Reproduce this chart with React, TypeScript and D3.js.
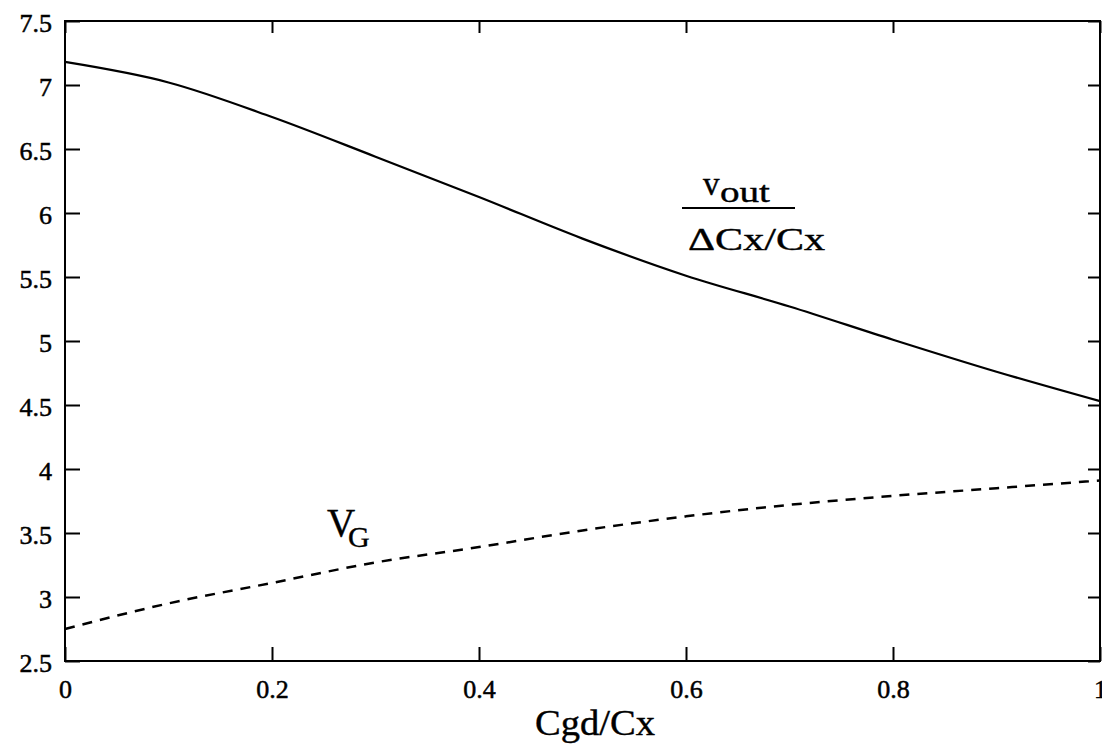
import React, { useRef, useEffect } from "react";
import * as d3 from "d3";

// Cgd/Cx sampled every 0.1
const ratios = [0, 0.1, 0.2, 0.3, 0.4, 0.5, 0.6, 0.7, 0.8, 0.9, 1.0];
// vout / (dCx/Cx)
const voutSens = [7.18, 7.02, 6.75, 6.44, 6.125, 5.8, 5.51, 5.27, 5.01, 4.76, 4.53];
// VG
const vg = [2.75, 2.95, 3.11, 3.27, 3.39, 3.52, 3.63, 3.72, 3.79, 3.85, 3.91];

const xTicks = [0, 0.2, 0.4, 0.6, 0.8, 1];
const yTicks = [2.5, 3, 3.5, 4, 4.5, 5, 5.5, 6, 6.5, 7, 7.5];

const W = 1102, H = 746;
const margin = { top: 21, right: 2, bottom: 85, left: 65 };
const FONT = "'Liberation Serif', 'Times New Roman', serif";

export default function App() {
    const axRef = useRef<SVGGElement>(null);

    const x = d3.scaleLinear().domain([0, 1]).range([margin.left, W - margin.right]);
    const y = d3.scaleLinear().domain([2.5, 7.5]).range([H - margin.bottom, margin.top]);

    const line = d3.line<number>()
        .x((d, i) => x(ratios[i]))
        .y(d => y(d))
        .curve(d3.curveMonotoneX);

    useEffect(() => {
        const g = d3.select(axRef.current);
        g.selectAll("*").remove();
        const fmt = (d: any) => String(d);

        // left axis with labels, ticks pointing inward
        const left = g.append("g")
            .attr("transform", "translate(" + x(0) + ",0)")
            .call(d3.axisLeft(y).tickValues(yTicks).tickFormat(fmt)
                .tickSizeInner(-15).tickSizeOuter(0).tickPadding(13));
        left.selectAll("text").attr("dy", "0.42em");

        const bottom = g.append("g")
            .attr("transform", "translate(0," + y(2.5) + ")")
            .call(d3.axisBottom(x).tickValues(xTicks).tickFormat(fmt)
                .tickSizeInner(-14).tickSizeOuter(0));
        bottom.selectAll("text").attr("y", 37).attr("dy", 0);

        // top and right: ticks only
        g.append("g")
            .attr("transform", "translate(0," + y(7.5) + ")")
            .call(d3.axisTop(x).tickValues(xTicks).tickFormat(() => "")
                .tickSizeInner(-12).tickSizeOuter(0));
        g.append("g")
            .attr("transform", "translate(" + x(1) + ",0)")
            .call(d3.axisRight(y).tickValues(yTicks).tickFormat(() => "")
                .tickSizeInner(-12).tickSizeOuter(0));

        g.selectAll("g").attr("font-family", FONT).attr("font-size", 26);
        g.selectAll(".domain").remove();
        g.selectAll(".tick line").attr("stroke", "#000").attr("stroke-width", 2);
        g.selectAll("text")
            .attr("font-family", FONT)
            .attr("font-size", 26)
            .attr("fill", "#000")
            .attr("stroke", "#000")
            .attr("stroke-width", 0.5);
    }, []);

    return (
        <svg width={W} height={H} style={{ position: "absolute", left: 0, top: 0, background: "#fff" }}
            fontFamily={FONT}>
            <rect x={x(0)} y={y(7.5)} width={x(1) - x(0)} height={y(2.5) - y(7.5)}
                fill="none" stroke="#000" strokeWidth={2} />
            <g ref={axRef} />

            <path d={line(voutSens) || ""} fill="none" stroke="#000" strokeWidth={2.2} />
            <path d={line(vg) || ""} fill="none" stroke="#000" strokeWidth={2.5} strokeDasharray="10,8" />

            <g stroke="#000" strokeWidth={0.4}>
                {/* annotation: vout / (dCx/Cx) */}
                <text x={703} y={195} fontSize={33}>v</text>
                <text x={720} y={202} fontSize={30} textLength={50} lengthAdjust="spacingAndGlyphs">out</text>
                <line x1={682} x2={795} y1={208} y2={208} strokeWidth={2} />
                <text x={688} y={250} fontSize={32} textLength={137} lengthAdjust="spacingAndGlyphs">ΔCx/Cx</text>

                {/* annotation: VG */}
                <text x={327} y={536} fontSize={39}>V</text>
                <text x={348} y={547} fontSize={30}>G</text>

                <text x={535} y={735} fontSize={35} textLength={120} lengthAdjust="spacingAndGlyphs">Cgd/Cx</text>
            </g>
        </svg>
    );
}
